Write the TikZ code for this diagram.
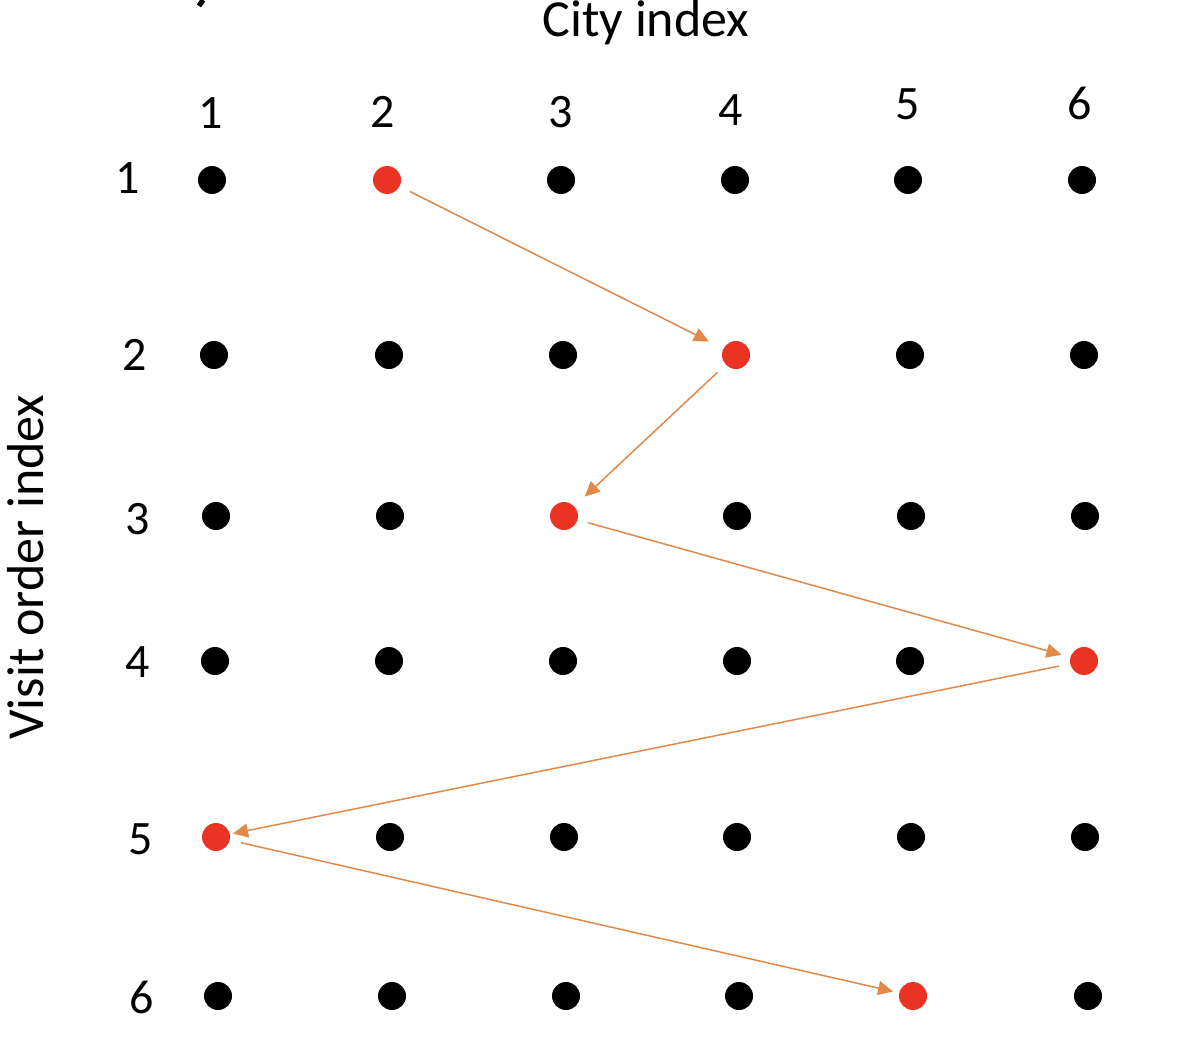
\documentclass[tikz,border=0pt]{standalone}
\usepackage{fontspec}
\setmainfont{Carlito}
\usetikzlibrary{arrows.meta}
\definecolor{dotred}{RGB}{234,51,35}
\definecolor{arrorange}{RGB}{226,136,72}
\begin{document}
\begin{tikzpicture}[x=0.5pt,y=-0.5pt,
  dot/.style={circle,fill=black,inner sep=0pt,minimum size=14pt},
  reddot/.style={dot,fill=dotred},
  lbl/.style={font=\fontsize{24}{28}\selectfont,inner sep=0pt},
  ttl/.style={font=\fontsize{26}{30}\selectfont,inner sep=0pt},
  path/.style={draw=arrorange,line width=0.75pt,-{Triangle[length=7.5pt,width=7pt]},shorten <=5.5pt}]
\useasboundingbox (0,0) rectangle (1194,1038);
% title fragment at top edge
\draw[line width=2.5pt] (203,0) -- (199,6);
% axis titles
\node[ttl,anchor=base] (ctitle) at (646,37) {City index};
\node[ttl,anchor=base,rotate=90] (vtitle) at (43,567) {Visit order index};
% column labels
\node[lbl] (c1) at (211,113) {1};
\node[lbl] (c2) at (383,112) {2};
\node[lbl] (c3) at (561,112) {3};
\node[lbl] (c4) at (731,110) {4};
\node[lbl] (c5) at (908,104) {5};
\node[lbl] (c6) at (1080,103) {6};
% row labels
\node[lbl] (r1) at (128,178) {1};
\node[lbl] (r2) at (135,355) {2};
\node[lbl] (r3) at (138,519) {3};
\node[lbl] (r4) at (138,662) {4};
\node[lbl] (r5) at (141,839) {5};
\node[lbl] (r6) at (142,997) {6};
% row 1
\node[dot] (d11) at (212,180) {};
\node[reddot] (d12) at (387,180) {};
\node[dot] (d13) at (561,180) {};
\node[dot] (d14) at (735,180) {};
\node[dot] (d15) at (908,180) {};
\node[dot] (d16) at (1082,180) {};
% row 2
\node[dot] (d21) at (214,355) {};
\node[dot] (d22) at (389,355) {};
\node[dot] (d23) at (563,355) {};
\node[reddot] (d24) at (736,355) {};
\node[dot] (d25) at (910,355) {};
\node[dot] (d26) at (1084,355) {};
% row 3
\node[dot] (d31) at (216,516) {};
\node[dot] (d32) at (390,516) {};
\node[reddot] (d33) at (564,516) {};
\node[dot] (d34) at (737,516) {};
\node[dot] (d35) at (911,516) {};
\node[dot] (d36) at (1085,516) {};
% row 4
\node[dot] (d41) at (215,661) {};
\node[dot] (d42) at (389,661) {};
\node[dot] (d43) at (563,661) {};
\node[dot] (d44) at (737,661) {};
\node[dot] (d45) at (910,661) {};
\node[reddot] (d46) at (1084,661) {};
% row 5
\node[reddot] (d51) at (216,837) {};
\node[dot] (d52) at (390,837) {};
\node[dot] (d53) at (564,837) {};
\node[dot] (d54) at (737,837) {};
\node[dot] (d55) at (911,837) {};
\node[dot] (d56) at (1085,837) {};
% row 6
\node[dot] (d61) at (218,996) {};
\node[dot] (d62) at (392,996) {};
\node[dot] (d63) at (566,996) {};
\node[dot] (d64) at (739,996) {};
\node[reddot] (d65) at (913,996) {};
\node[dot] (d66) at (1088,996) {};
% tour
\draw[path,shorten >=8pt] (d12) -- (d24);
\draw[path,shorten >=7pt] (d24) -- (d33);
\draw[path,shorten >=4.5pt] (d33) -- (d46);
\draw[path,shorten >=1.5pt] (d46) -- (d51);
\draw[path,shorten >=3pt] (d51) -- (d65);
\end{tikzpicture}
\end{document}
